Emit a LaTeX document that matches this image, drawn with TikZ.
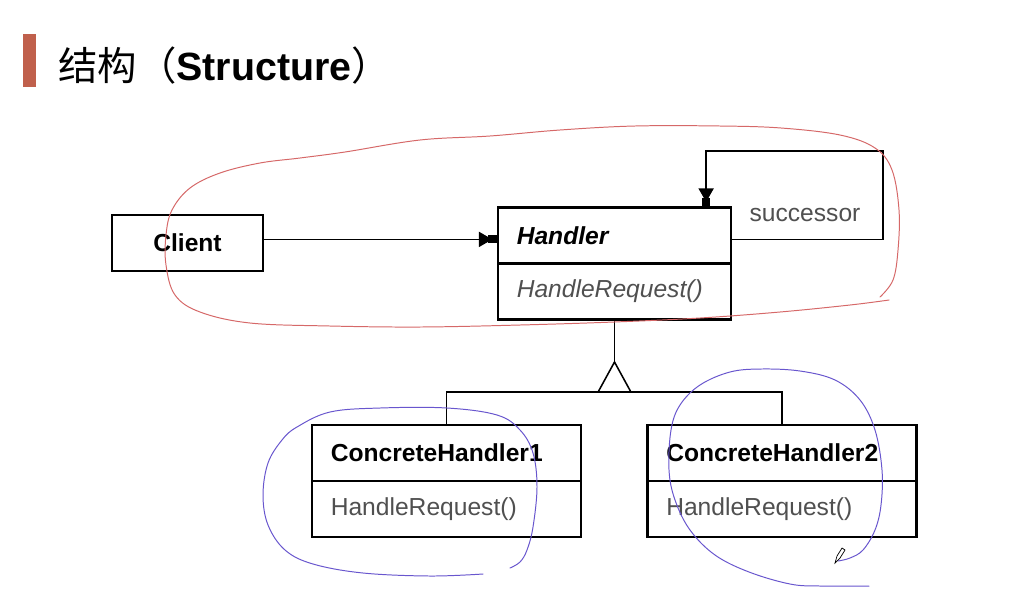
\documentclass[tikz,border=0pt]{standalone}
\usepackage{fontspec}
\setmainfont{Liberation Sans}
\newfontfamily\cjkfont{Noto Sans CJK SC}
\usepackage{xcolor}
\usepackage{tikz}
\usetikzlibrary{arrows.meta, positioning, calc}
\definecolor{titlebrown}{RGB}{192, 96, 76}
\definecolor{methodgray}{RGB}{80, 80, 80}
\definecolor{inkred}{RGB}{214, 104, 104}
\definecolor{inkblue}{RGB}{104, 86, 206}

\begin{document}
\begin{tikzpicture}[
    x=0.025cm, y=-0.025cm,
    classname/.style={rectangle, draw=black, line width=1.5pt, fill=white, minimum height=1.4cm, inner xsep=0.47cm, inner ysep=0pt, outer sep=0pt, align=left, font=\fontsize{17.5pt}{21pt}\selectfont\bfseries},
    method/.style={classname, font=\fontsize{17.5pt}{21pt}\selectfont, text=methodgray},
    assoc/.style={-{Triangle[length=0.34cm, width=0.38cm, sep=-0.1cm] Rectangle[length=0.24cm, width=0.2cm]}, line width=1.1pt},
    inherit/.style={line width=1.1pt},
    note/.style={font=\fontsize{17.5pt}{21pt}\selectfont, text=methodgray},
    ink/.style={line width=0.7pt, line cap=round, line join=round}
]
\fill[white] (0,0) rectangle (1016,606);
\useasboundingbox (0,0) rectangle (1016,606);

\fill[titlebrown] (23,34) rectangle (36,87);
\node[anchor=west, inner sep=0pt, font=\fontsize{28pt}{34pt}\selectfont] (title) at (58,66) {{\cjkfont 结构（}\textbf{Structure}{\cjkfont ）}};

\node[classname, minimum width=3.775cm, align=center] (client) at (187.5,243) {Client};

\node[classname, text width=4.885cm] (hname) at (614.5,235.5) {\textit{Handler}};
\node[method, text width=4.885cm, below=0pt of hname] (hop) {\textit{HandleRequest()}};

\node[classname, text width=5.785cm] (ch1name) at (446.5,453) {ConcreteHandler1};
\node[method, text width=5.785cm, below=0pt of ch1name] (ch1op) {HandleRequest()};

\node[classname, text width=5.785cm] (ch2name) at (782,453) {ConcreteHandler2};
\node[method, text width=5.785cm, below=0pt of ch2name] (ch2op) {HandleRequest()};

\draw[assoc] ([yshift=0.09cm]client.east) -- ([yshift=0.09cm]client.east -| hname.west);

\coordinate (succ corner) at (883,151);
\draw[assoc] ([yshift=-0.1cm]hname.east) -| (succ corner) -| ([xshift=2.29cm]hname.north);
\node[note] (succ) at (805,215) {successor};

\coordinate (apex) at (614.5,362);
\coordinate (fork) at (614.5,392);
\draw[inherit] (hop.south) -- (apex);
\draw[inherit] (apex) -- ([xshift=-0.41cm]fork) -- ([xshift=0.41cm]fork) -- cycle;
\draw[inherit] (ch1name.north) |- (fork) -| (ch2name.north);

% hand-drawn marks
\draw[ink, inkred] plot[smooth, tension=0.6] coordinates {(889,300) (850,305) (780,312) (700,318) (614,322) (520,325) (420,327) (330,326) (250,323) (200,312) (175,295) (166,265) (166,235) (172,210) (190,188) (220,173) (260,163) (300,158) (345,152) (420,140) (490,136) (560,130) (635,126) (720,126) (781,128) (840,135) (875,148) (892,170) (899,210) (898,250) (893,280) (880,297)};
\draw[ink, inkblue] plot[smooth, tension=0.6] coordinates {(483,574) (430,576) (363,573) (313,564) (285,550) (268,525) (263,495) (268,463) (282,440) (297,427) (330,412) (380,408) (447,408) (497,415) (520,430) (533,453) (537,487) (533,527) (527,550) (520,562) (510,568)};
\draw[ink, inkblue] plot[smooth, tension=0.6] coordinates {(869,586) (820,586) (790,584) (749,572) (715,555) (690,530) (675,500) (669,470) (671,430) (680,405) (700,385) (730,372) (761,369) (800,371) (835,380) (860,400) (875,430) (882,470) (881,505) (875,530) (863,550) (850,558) (838,561)};
\draw[line width=0.5pt] (835,563) -- (837,556) -- (842,548) -- (845,550) -- (840,558) -- cycle;
\end{tikzpicture}
\end{document}
